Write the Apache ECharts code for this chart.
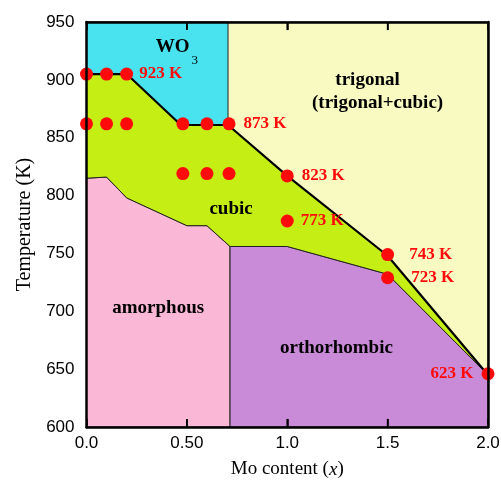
<!DOCTYPE html>
<html>
<head>
<meta charset="utf-8">
<script src="https://cdn.jsdelivr.net/npm/echarts@6/dist/echarts.min.js"></script>
<style>html,body{margin:0;padding:0;background:#fff}#c{width:501px;height:485px}</style>
</head>
<body>
<div id="c"></div>
<script>
// ---- data ----
const xTickLabels = ['0.0', '0.50', '1.0', '1.5', '2.0'];
const xInnerTicks = [0.5, 1.0, 1.5];
const yTicks = [600, 650, 700, 750, 800, 850, 900, 950];

const trigonalRegion = [[0, 950], [2, 950], [2, 600], [0, 600]];
const wo3Region = [[0, 950], [0.705, 950], [0.705, 861], [0.47, 861], [0.2, 905], [0, 905]];
const cubicRegion = [[0, 905], [0.2, 905], [0.47, 861], [0.705, 861], [1.0, 817], [1.5, 748], [2.0, 645],
  [1.5, 732], [1.0, 756], [0.715, 756], [0.6, 774], [0.5, 774], [0.2, 798], [0.1, 816], [0, 815]];
const amorphousRegion = [[0, 815], [0.1, 816], [0.2, 798], [0.5, 774], [0.6, 774], [0.715, 756], [0.715, 600], [0, 600]];
const orthoRegion = [[0.715, 756], [1.0, 756], [1.5, 732], [2.0, 645], [2.0, 600], [0.715, 600]];

const boundaryLine = [[0, 905], [0.2, 905], [0.47, 861], [0.705, 861], [1.0, 817], [1.5, 748], [2.0, 645]];

const pointX = [0, 0.1, 0.2, 0, 0.1, 0.2, 0.48, 0.6, 0.71, 0.48, 0.6, 0.71, 1.0, 1.0, 1.5, 1.5, 2.0];
const pointY = [905, 905, 905, 862, 862, 862, 862, 862, 862, 819, 819, 819, 817, 778, 749, 729, 646];

const tempX = [0.2, 0.71, 1.0, 1.0, 1.5, 1.5, 2.0];
const tempY = [905, 862, 817, 778, 749, 729, 646];
const tempText = ['923 K', '873 K', '823 K', '773 K', '743 K', '723 K', '623 K'];

const regionNames = ['trigonal', '(trigonal+cubic)', 'cubic', 'amorphous', 'orthorhombic'];
const regionX = [1.40, 1.45, 0.72, 0.357, 1.245];
const regionY = [900, 880, 788, 703, 668];
const wo3LabelPos = [0.45, 928];

// ---- styles ----
const X_MIN = 0, X_MAX = 2, Y_MIN = 600, Y_MAX = 950;
const TICK_LEN = 7; // in temperature units (~8 px)
const tempDist = [6, 8, 8, 7, 15, 17, 8];
const tempSide = ['right', 'right', 'right', 'right', 'right', 'right', 'left'];
const serif = '"Liberation Serif", "Times New Roman", serif';
const sans = '"Liberation Sans", Arial, sans-serif';
const clear = 'rgba(0,0,0,0)';

function polySeries(pts, fill, z) {
  return {
    type: 'custom', z: z, silent: true,
    data: [[X_MIN, Y_MIN]],
    renderItem: function (params, api) {
      return {
        type: 'polygon',
        shape: { points: pts.map(function (p) { return api.coord(p); }) },
        style: { fill: fill, stroke: '#222', lineWidth: 1 }
      };
    }
  };
}

function tickSeries(v, y0, y1) {
  return {
    type: 'line', z: 20, silent: true, symbol: 'none', showSymbol: false, clip: false,
    data: [[v, y0], [v, y1]],
    lineStyle: { color: '#000', width: 1.6, opacity: 1 }
  };
}

function axisLine() { return { show: true, onZero: false, lineStyle: { color: '#000', width: 2.5 } }; }
function inTicks() { return { show: true, inside: true, length: 8, lineStyle: { color: '#000', width: 1.5 } }; }

const tickSeriesList = [];
xInnerTicks.forEach(function (v) {
  tickSeriesList.push(tickSeries(v, Y_MIN, Y_MIN + TICK_LEN));
  tickSeriesList.push(tickSeries(v, Y_MAX - TICK_LEN, Y_MAX));
});

const chart = echarts.init(document.getElementById('c'));
chart.setOption({
  animation: false,
  grid: { left: 86.5, right: 13, top: 22, bottom: 58, containLabel: false, outerBoundsMode: 'none' },
  xAxis: [{
    type: 'value', min: X_MIN, max: X_MAX, interval: 0.5, position: 'bottom', z: 10,
    axisLine: axisLine(), axisTick: inTicks(),
    axisLabel: { color: '#000', fontFamily: sans, fontSize: 17, margin: 8,
      formatter: function (v) { return xTickLabels[Math.round(v / 0.5)]; } },
    splitLine: { show: false },
    name: 'Mo content ({i|x})', nameLocation: 'middle', nameGap: 33,
    nameTextStyle: { color: '#000', fontFamily: serif, fontSize: 19,
      rich: { i: { fontStyle: 'italic', fontFamily: serif, fontSize: 19, color: '#000' } } }
  }, {
    type: 'value', min: X_MIN, max: X_MAX, interval: 0.5, position: 'top', z: 10,
    axisLine: axisLine(), axisTick: inTicks(),
    axisLabel: { show: false }, splitLine: { show: false }
  }],
  yAxis: [{
    type: 'value', min: Y_MIN, max: Y_MAX, interval: 50, position: 'left', z: 10,
    axisLine: axisLine(),
    axisTick: { show: false },
    axisLabel: { color: '#000', fontFamily: sans, fontSize: 17, margin: 12,
      formatter: function (v) { return yTicks.indexOf(v) >= 0 ? String(v) : ''; } },
    splitLine: { show: false },
    name: 'Temperature (K)', nameLocation: 'middle', nameGap: 52,
    nameTextStyle: { color: '#000', fontFamily: serif, fontSize: 20 }
  }, {
    type: 'value', min: Y_MIN, max: Y_MAX, interval: 50, position: 'right', z: 10,
    axisLine: axisLine(),
    axisTick: { show: false }, axisLabel: { show: false }, splitLine: { show: false }
  }],
  series: [
    polySeries(trigonalRegion, '#f9f9c2', 1),
    polySeries(wo3Region, '#48e3ef', 2),
    polySeries(amorphousRegion, '#fbb8d6', 2),
    polySeries(orthoRegion, '#c98ad7', 2),
    polySeries(cubicRegion, '#c4ee14', 2),
    {
      type: 'line', z: 3, silent: true, data: boundaryLine, symbol: 'none',
      lineStyle: { color: '#000', width: 2.2 }
    },
    {
      type: 'scatter', z: 5, silent: true, symbol: 'circle', symbolSize: 13,
      itemStyle: { color: '#ff0a0a', opacity: 1 },
      data: pointX.map(function (x, i) { return [x, pointY[i]]; })
    },
    {
      type: 'scatter', z: 6, silent: true, symbolSize: 13, itemStyle: { color: clear, opacity: 1 },
      data: tempX.map(function (x, i) {
        return {
          value: [x, tempY[i]],
          label: { show: true, position: tempSide[i], distance: tempDist[i], formatter: tempText[i],
            color: '#ff0a0a', opacity: 1, fontFamily: serif, fontWeight: 'bold', fontSize: 17 }
        };
      })
    },
    {
      type: 'scatter', z: 6, silent: true, symbolSize: 1, itemStyle: { color: clear, opacity: 1 },
      data: regionX.map(function (x, i) { return { value: [x, regionY[i]], name: regionNames[i] }; }),
      label: { show: true, position: 'inside', formatter: '{b}', color: '#000', opacity: 1,
        fontFamily: serif, fontWeight: 'bold', fontSize: 19 }
    },
    {
      type: 'scatter', z: 6, silent: true, symbolSize: 1, itemStyle: { color: clear, opacity: 1 },
      data: [{ value: wo3LabelPos, name: 'WO3' }],
      label: { show: true, position: 'inside', formatter: '{a|WO}{s|3}', opacity: 1,
        rich: {
          a: { color: '#000', fontFamily: serif, fontWeight: 'bold', fontSize: 19 },
          s: { color: '#000', fontFamily: serif, fontSize: 13, padding: [26, 0, 0, 2] }
        } }
    }
  ].concat(tickSeriesList)
});
</script>
</body>
</html>
